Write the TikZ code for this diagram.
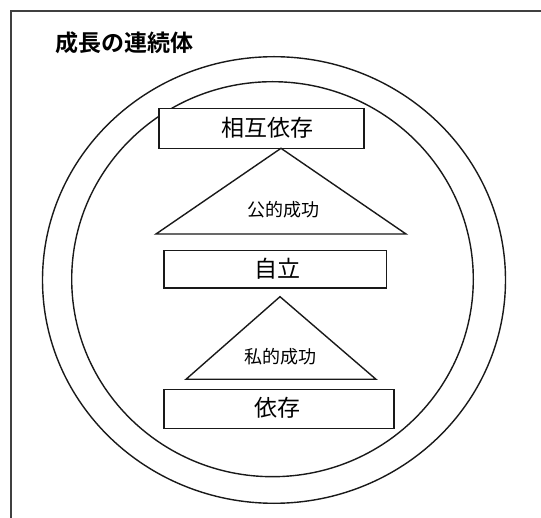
\documentclass[tikz,border=0pt]{standalone}
\usepackage{fontspec}
\newfontfamily\jpfont{Noto Sans CJK JP}
\newfontfamily\jpbold{Noto Sans CJK JP Bold}
\begin{document}
\begin{tikzpicture}[x=1pt,y=-1pt,
  shape line/.style={draw=black!90, line width=1.4pt},
  levelbox/.style={shape line, rectangle, inner sep=0pt, anchor=north west},
  boxlabel/.style={font=\jpfont\fontsize{23}{23}\selectfont, inner sep=0pt},
  trilabel/.style={font=\jpfont\fontsize{18}{18}\selectfont, inner sep=0pt}]
\useasboundingbox (0,0) rectangle (541,518);
\clip (0,0) rectangle (541,518);
% frame
\draw[draw=black!75, line width=2pt] (541,11) -- (11,11) -- (11,520);
% title
\node[font=\jpbold\fontsize{23}{23}\selectfont, inner sep=0pt, anchor=west] (title) at (55,43) {成長の連続体};
% ellipses
\draw[shape line] (274,280) ellipse [x radius=231.5, y radius=223.3];
\draw[shape line] (272.5,279.2) ellipse [x radius=200.8, y radius=197.5];
% boxes
\node[levelbox, fill=white, minimum width=205pt, minimum height=40pt] (b1) at (158.3,107.7) {};
\node[boxlabel] (l1) at (267.5,128) {相互依存};
\node[levelbox, minimum width=222.4pt, minimum height=37.3pt] (b2) at (163.3,250) {};
\node[boxlabel] (l2) at (277.5,268.5) {自立};
\node[levelbox, minimum width=230pt, minimum height=38.7pt] (b3) at (163.3,389) {};
\node[boxlabel] (l3) at (277,408) {依存};
% triangles
\coordinate (t1a) at (281,148.3);
\coordinate (t1l) at (156,234);
\coordinate (t1r) at (406,234);
\draw[shape line, line join=miter] (t1a) -- (t1r) -- (t1l) -- cycle;
\node[trilabel] (tl1) at (283,210) {公的成功};
\coordinate (t2a) at (280,296.7);
\coordinate (t2l) at (186,379.3);
\coordinate (t2r) at (376,379.3);
\draw[shape line, line join=miter] (t2a) -- (t2r) -- (t2l) -- cycle;
\node[trilabel] (tl2) at (280,357) {私的成功};
\end{tikzpicture}
\end{document}
